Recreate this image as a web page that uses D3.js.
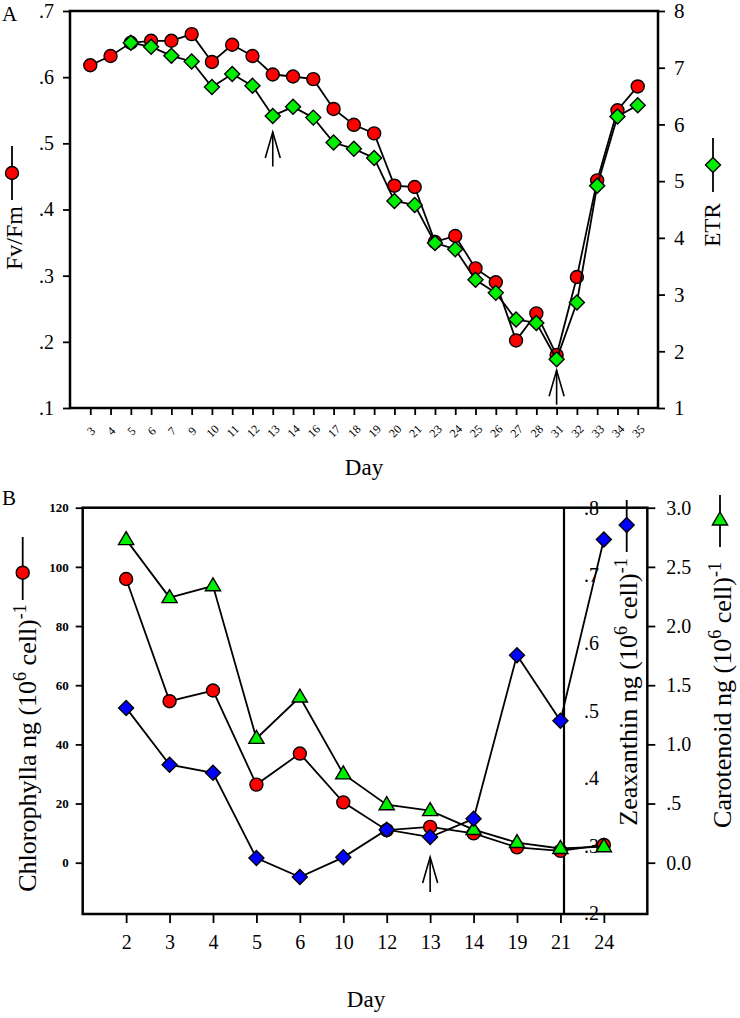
<!DOCTYPE html>
<html><head><meta charset="utf-8">
<script src="https://cdn.jsdelivr.net/npm/d3@7"></script>
<style>
body{margin:0;background:#fff;}
svg{display:block;font-family:"Liberation Serif","Times New Roman",Times,serif;}
</style></head><body>
<svg id="c" width="740" height="1018"></svg>
<script>
// ---------- DATA ----------
const daysA = ["3","4","5","6","7","9","10","11","12","13","14","16","17","18","19","20","21","23","24","25","26","27","28","31","32","33","34","35"];
const fvfm = [0.618,0.632,0.652,0.655,0.655,0.665,0.623,0.649,0.632,0.604,0.601,0.597,0.552,0.528,0.515,0.436,0.434,0.351,0.360,0.311,0.290,0.202,0.243,0.180,0.298,0.444,0.550,0.586];
const etr = [null,null,7.44,7.37,7.21,7.11,6.66,6.89,6.68,6.15,6.31,6.12,5.68,5.57,5.41,4.65,4.58,3.91,3.80,3.26,3.03,2.56,2.50,1.86,2.86,4.92,6.14,6.34];
const fvfmTicks = [0.1,0.2,0.3,0.4,0.5,0.6,0.7];
const etrTicks = [1,2,3,4,5,6,7,8];
const arrowsA = [{day:"13", tip:0.517, tail:0.465},{day:"31", tip:0.157, tail:0.105}];

const daysB = ["2","3","4","5","6","10","12","13","14","19","21","24"];
const chlorophyll = [95.9,54.6,58.2,26.4,36.9,20.4,11.0,12.1,9.9,5.2,4.0,6.0];
const carotenoid = [2.73,2.24,2.34,1.05,1.40,0.75,0.49,0.44,0.28,0.17,0.12,0.135];
const zeaxanthin = [0.504,0.420,0.408,0.282,0.254,0.283,0.324,0.313,0.340,0.582,0.485,0.753];
const chlTicks = [0,20,40,60,80,100,120];
const caroTicks = [0,0.5,1.0,1.5,2.0,2.5,3.0];
const caroTickLabels = ["0.0",".5","1.0","1.5","2.0","2.5","3.0"];
const zeaTicks = [0.2,0.3,0.4,0.5,0.6,0.7,0.8];
const arrowsB = [{day:"13", tip:1.9, tail:-9.9}];

// ---------- SETUP ----------
const FONT = '"Liberation Serif","Times New Roman",Times,serif';
const svg = d3.select("#c");
const RED="#ff0000", GREEN="#00ee00", BLUE="#0000ff";
const diamond = s => `M0,${-s}L${s},0L0,${s}L${-s},0Z`;
const triangle = s => `M0,${-s}L${s*0.95},${s*0.62}L${-s*0.95},${s*0.62}Z`;

function styleAxis(g, fs, bold){
  g.attr("font-family", FONT);
  g.selectAll("text").attr("font-size", fs).attr("fill","#000").attr("font-weight", bold?"bold":"normal");
  g.selectAll(".tick line").attr("stroke","#000").attr("stroke-width",1.8);
  g.select(".domain").remove();
}
function drawArrow(x, y1, y2){
  const g = svg.append("g").attr("stroke","#000").attr("stroke-width",1.6).attr("fill","none");
  g.append("line").attr("x1",x).attr("x2",x).attr("y1",y1).attr("y2",y2);
  g.append("path").attr("d",`M${x-7.5},${y1+26}L${x},${y1}L${x+7.5},${y1+26}`);
}
function series(g, x, y, days, vals, shape, fill){
  const pts = days.map((d,i)=>({d, v:vals[i]})).filter(p=>p.v!=null);
  g.append("path").datum(pts)
    .attr("d", d3.line().x(p=>x(p.d)).y(p=>y(p.v)))
    .attr("fill","none").attr("stroke","#000").attr("stroke-width",1.8);
  const m = g.selectAll(null).data(pts).enter();
  if(shape==="circle"){
    m.append("circle").attr("cx",p=>x(p.d)).attr("cy",p=>y(p.v)).attr("r",6.5)
      .attr("fill",fill).attr("stroke","#000").attr("stroke-width",1.4);
  } else {
    m.append("path").attr("transform",p=>`translate(${x(p.d)},${y(p.v)})`)
      .attr("d", shape==="diamond"?diamond(7.5):triangle(8))
      .attr("fill",fill).attr("stroke","#000").attr("stroke-width",1.4);
  }
}
function rotText(x, y, fs, txt){
  return svg.append("text").attr("transform",`translate(${x},${y}) rotate(-90)`)
    .attr("text-anchor","middle").attr("font-size",fs).text(txt);
}

// ---------- PANEL A ----------
const A = {l:70, r:658, t:11, b:408};
const xA = d3.scalePoint().domain(daysA).range([A.l, A.r]).padding(1);
const yFv = d3.scaleLinear().domain([0.1,0.7]).range([A.b, A.t]);
const yEtr = d3.scaleLinear().domain([1,8]).range([A.b, A.t]);

svg.append("rect").attr("x",A.l).attr("y",A.t).attr("width",A.r-A.l).attr("height",A.b-A.t)
  .attr("fill","none").attr("stroke","#000").attr("stroke-width",2.5);

svg.append("g").attr("transform",`translate(${A.l},0)`)
  .call(d3.axisLeft(yFv).tickValues(fvfmTicks).tickSize(7).tickPadding(9).tickSizeOuter(0)
    .tickFormat(d=>d3.format(".1f")(d).replace(/^0/,"")))
  .call(g=>styleAxis(g,20,false));
svg.append("g").attr("transform",`translate(${A.r},0)`)
  .call(d3.axisRight(yEtr).tickValues(etrTicks).tickSize(7).tickPadding(9).tickSizeOuter(0).tickFormat(d3.format("d")))
  .call(g=>styleAxis(g,21,false));
svg.append("g").attr("transform",`translate(0,${A.b})`)
  .call(d3.axisBottom(xA).tickSize(7).tickSizeOuter(0))
  .call(g=>styleAxis(g,12,false))
  .call(g=>g.selectAll("text").attr("y",0).attr("dy","0.35em")
     .attr("transform","translate(0,23) rotate(-45)").attr("text-anchor","middle"));

const gA = svg.append("g");
series(gA, xA, yFv, daysA, fvfm, "circle", RED);
series(gA, xA, yEtr, daysA, etr, "diamond", GREEN);
arrowsA.forEach(a=>drawArrow(xA(a.day), yFv(a.tip), yFv(a.tail)));

// labels A
svg.append("text").attr("x",2).attr("y",21).attr("font-size",21).text("A");
svg.append("text").attr("x",364).attr("y",475).attr("text-anchor","middle").attr("font-size",23).text("Day");
svg.append("line").attr("x1",12).attr("x2",12).attr("y1",146).attr("y2",200).attr("stroke","#000").attr("stroke-width",1.8);
svg.append("circle").attr("cx",12).attr("cy",173).attr("r",6.5).attr("fill",RED).attr("stroke","#000").attr("stroke-width",1.4);
rotText(22, 238, 24, "Fv/Fm");
svg.append("line").attr("x1",713).attr("x2",713).attr("y1",138).attr("y2",192).attr("stroke","#000").attr("stroke-width",1.8);
svg.append("path").attr("transform","translate(713,165)").attr("d",diamond(7.5)).attr("fill",GREEN).attr("stroke","#000").attr("stroke-width",1.4);
rotText(720, 225, 23, "ETR");

// ---------- PANEL B ----------
const B = {l:82.7, r:647.3, t:507.7, b:914};
const xB = d3.scalePoint().domain(daysB).range([B.l, B.r]).padding(1);
const yChl = d3.scaleLinear().domain([0,120]).range([862.7, 507.7]);
const yCar = d3.scaleLinear().domain([0,3]).range([862.7, 507.7]);
const yZea = d3.scaleLinear().domain([0.2,0.8]).range([913.5, 507.7]);
const zeaX = 564;

svg.append("rect").attr("x",B.l).attr("y",B.t).attr("width",B.r-B.l).attr("height",B.b-B.t)
  .attr("fill","none").attr("stroke","#000").attr("stroke-width",2.5);
svg.append("line").attr("x1",zeaX).attr("x2",zeaX).attr("y1",B.t).attr("y2",B.b).attr("stroke","#000").attr("stroke-width",2.2);

svg.append("g").attr("transform",`translate(${B.l},0)`)
  .call(d3.axisLeft(yChl).tickValues(chlTicks).tickSize(7).tickPadding(7).tickSizeOuter(0))
  .call(g=>styleAxis(g,13,true));
svg.append("g").attr("transform",`translate(${B.r},0)`)
  .call(d3.axisRight(yCar).tickValues(caroTicks).tickSize(8).tickPadding(11).tickSizeOuter(0)
    .tickFormat((d,i)=>caroTickLabels[i]))
  .call(g=>styleAxis(g,20,false));
svg.append("g").attr("transform",`translate(${zeaX},0)`)
  .call(d3.axisRight(yZea).tickValues(zeaTicks).tickSize(0).tickPadding(20).tickSizeOuter(0)
    .tickFormat(d=>d3.format(".1f")(d).replace(/^0/,"")))
  .call(g=>styleAxis(g,20,false));
svg.append("g").attr("transform",`translate(0,${B.b})`)
  .call(d3.axisBottom(xB).tickSize(9).tickPadding(12).tickSizeOuter(0))
  .call(g=>styleAxis(g,20,false));

const gB = svg.append("g");
series(gB, xB, yChl, daysB, chlorophyll, "circle", RED);
series(gB, xB, yCar, daysB, carotenoid, "triangle", GREEN);
series(gB, xB, yZea, daysB, zeaxanthin, "diamond", BLUE);
arrowsB.forEach(a=>drawArrow(xB(a.day), yChl(a.tip), yChl(a.tail)));

// labels B
svg.append("text").attr("x",2).attr("y",505).attr("font-size",21).text("B");
svg.append("text").attr("x",366).attr("y",1007).attr("text-anchor","middle").attr("font-size",23).text("Day");

function rotLabel(x, y, main){
  const t = svg.append("text").attr("transform",`translate(${x},${y}) rotate(-90)`)
    .attr("text-anchor","middle").attr("font-size",26);
  t.append("tspan").text(main + " (10");
  t.append("tspan").attr("font-size",18).attr("dy",-10).text("6");
  t.append("tspan").attr("dy",10).text(" cell)");
  t.append("tspan").attr("font-size",18).attr("dy",-10).text("-1");
}
svg.append("line").attr("x1",22.7).attr("x2",22.7).attr("y1",537).attr("y2",600).attr("stroke","#000").attr("stroke-width",1.8);
svg.append("circle").attr("cx",22.7).attr("cy",572.7).attr("r",6.5).attr("fill",RED).attr("stroke","#000").attr("stroke-width",1.4);
rotLabel(36, 748, "Chlorophylla ng");

svg.append("line").attr("x1",626.7).attr("x2",626.7).attr("y1",500).attr("y2",552).attr("stroke","#000").attr("stroke-width",1.8);
svg.append("path").attr("transform","translate(626.7,525)").attr("d",diamond(7.5)).attr("fill",BLUE).attr("stroke","#000").attr("stroke-width",1.4);
rotLabel(637, 692, "Zeaxanthin ng");

svg.append("line").attr("x1",720).attr("x2",720).attr("y1",495).attr("y2",547).attr("stroke","#000").attr("stroke-width",1.8);
svg.append("path").attr("transform","translate(720,520)").attr("d",triangle(8)).attr("fill",GREEN).attr("stroke","#000").attr("stroke-width",1.4);
rotLabel(731, 695, "Carotenoid ng");
</script>
</body></html>
